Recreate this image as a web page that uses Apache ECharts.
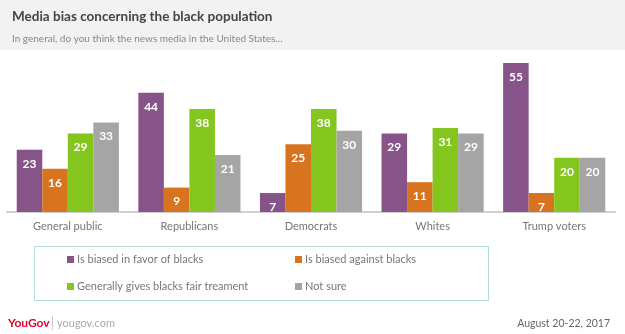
<!DOCTYPE html>
<html><head><meta charset="utf-8">
<script src="https://cdn.jsdelivr.net/npm/echarts@6/dist/echarts.min.js"></script>
<style>html,body{margin:0;padding:0;background:#fff}#c{width:625px;height:334px}</style>
</head><body><div id="c"></div>
<script>
const categories = ['General public','Republicans','Democrats','Whites','Trump voters'];
const seriesNames = ['Is biased in favor of blacks','Is biased against blacks','Generally gives blacks fair treament','Not sure'];
const favor = [23,44,7,29,55];
const against = [16,9,25,11,7];
const fair = [29,38,38,31,20];
const notSure = [33,21,30,29,20];
const colors = ['#87548a','#d8731f','#84c61d','#a5a5a5'];
const values = [favor, against, fair, notSure];
const FONT = 'Lato, "Open Sans", sans-serif';

const chart = echarts.init(document.getElementById('c'), null, {renderer:'canvas'});
const legendPos = [[62,249],[290,249],[62,276],[290,276]];
chart.setOption({
  animation:false,
  backgroundColor:'#fff',
  textStyle:{fontFamily:FONT},
  graphic:[
    {type:'rect', shape:{x:0,y:0,width:625,height:50}, style:{fill:'#f2f2f2'}, z:-10},
    {type:'rect', shape:{x:34.5,y:246.5,width:454,height:54}, style:{fill:'none',stroke:'#b0dcdc',lineWidth:1}},
    {type:'text', left:8, top:317, style:{text:'YouGov', fill:'#e4032e', font:'bold 12px '+FONT}},
    {type:'rect', shape:{x:52,y:316,width:1,height:14}, style:{fill:'#cccccc'}},
    {type:'text', left:57, top:318, style:{text:'yougov.com', fill:'#aaaaaa', font:'11px '+FONT}},
    {type:'text', right:15, top:318, style:{text:'August 20-22, 2017', fill:'#666666', font:'10.5px '+FONT}}
  ],
  title:{
    text:'Media bias concerning the black population',
    subtext:'In general, do you think the news media in the United States...',
    left:7, top:5, itemGap:10,
    textStyle:{fontFamily:FONT, fontSize:13.5, fontWeight:'bold', color:'#444'},
    subtextStyle:{fontFamily:FONT, fontSize:10, color:'#888'}
  },
  legend: seriesNames.map((n,i)=>({
    data:[n], left:legendPos[i][0], top:legendPos[i][1], icon:'rect', itemWidth:7, itemHeight:7, itemGap:3,
    textStyle:{fontFamily:FONT, fontSize:11, color:'#777', padding:[0,0,0,-2]}, selectedMode:false
  })),
  grid:{left:7, right:10, top:63, bottom:122, containLabel:false},
  xAxis:{
    type:'category', data:categories,
    axisLine:{lineStyle:{color:'#d0d0d0', width:2}}, axisTick:{show:false},
    axisLabel:{color:'#777', fontSize:11, margin:9, fontFamily:FONT}
  },
  yAxis:{type:'value', min:0, max:55, show:false, splitLine:{show:false}},
  series: seriesNames.map((n,i)=>({
    name:n, type:'bar', data:values[i], barGap:'0%', barCategoryGap:'16%',
    itemStyle:{color:colors[i]},
    label:{show:true, position:'insideTop', distance:8, color:'#fff', fontWeight:'bold', fontSize:12, fontFamily:FONT}
  }))
});
</script></body></html>
